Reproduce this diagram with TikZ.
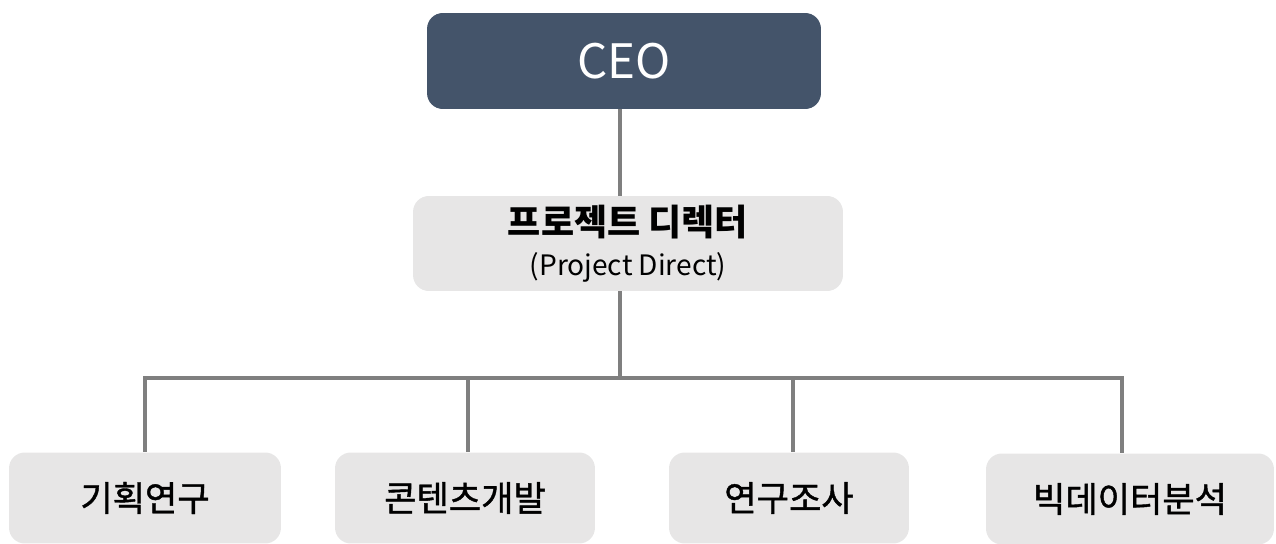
\documentclass[tikz,border=0pt]{standalone}
\usepackage{fontspec}
\setmainfont{Noto Sans CJK KR}
\newfontfamily\medfont{Noto Sans CJK KR}[FakeBold=1.2]
\definecolor{ceoblue}{HTML}{44546A}
\definecolor{boxgray}{HTML}{E7E6E6}
\definecolor{linegray}{HTML}{7F7F7F}
\begin{document}
\begin{tikzpicture}[x=0.02cm,y=-0.02cm,
  box/.style={rounded corners=9pt, inner sep=0pt, align=center},
  chief/.style={box, fill=ceoblue, text=white, minimum width=7.88cm, minimum height=1.92cm, font=\fontsize{27}{32}\selectfont},
  director/.style={box, fill=boxgray, minimum width=8.6cm, minimum height=1.9cm},
  team/.style={box, fill=boxgray, minimum height=1.82cm, font=\medfont\fontsize{20}{24}\selectfont},
  link/.style={draw=linegray, line width=1.8pt}]
  \useasboundingbox (0,0) rectangle (1276,544);

  \node[chief]    (ceo) at (624,61)    {CEO};
  \node[director] (pd)  at (628,243.5) {{\bfseries\fontsize{20.5}{25}\selectfont 프로젝트 디렉터}\\[7pt]{\fontsize{16}{19}\selectfont (Project Direct)}};

  \node[team, minimum width=5.44cm] (plan)  at (145,498)  {기획연구};
  \node[team, minimum width=5.2cm]  (cont)  at (465,498)  {콘텐츠개발};
  \node[team, minimum width=4.8cm]  (res)   at (789,498)  {연구조사};
  \node[team, minimum width=5.76cm] (data)  at (1130,499) {빅데이터분석};

  % Connectors
  \coordinate (trunk) at (620,378);
  \draw[link] (ceo.south -| trunk) -- (pd.north -| trunk);
  \draw[link] (pd.south -| trunk) -- (trunk);
  \coordinate (d1) at (145,378);
  \coordinate (d2) at (468,378);
  \coordinate (d3) at (793,378);
  \coordinate (d4) at (1122,378);
  \draw[link, line cap=rect] (d1) -- (d4);
  \foreach \d/\n in {d1/plan,d2/cont,d3/res,d4/data}
    \draw[link] (\d) -- (\d |- \n.north);
\end{tikzpicture}
\end{document}
